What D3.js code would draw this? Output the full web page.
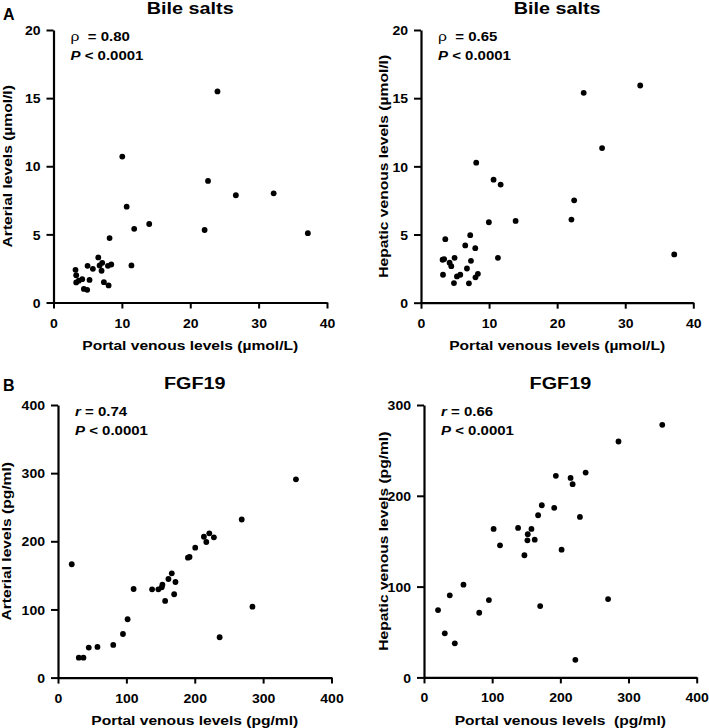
<!DOCTYPE html>
<html>
<head>
<meta charset="utf-8">
<script src="https://cdn.jsdelivr.net/npm/d3@7"></script>
<style>
  html, body { margin: 0; padding: 0; background: #fff; }
  svg { display: block; }
  text { font-family: "Liberation Sans", Arial, Helvetica, sans-serif; font-weight: bold; fill: #000; }
</style>
</head>
<body>
<div id="chart"></div>
<script>
// ---------------- DATA ----------------
// Panel A left: bile salts, portal (x) vs arterial (y), µmol/L
const bsPortalA = [23.98, 10.06, 22.6, 26.67, 32.2, 10.7, 14.0, 11.8, 22.1, 37.2, 8.2, 6.55, 11.4, 3.22, 4.98, 5.76, 6.74, 7.13, 7.03, 7.96, 8.45, 3.32, 3.32, 4.2, 5.27, 7.37, 8.06, 4.44, 4.93, 3.7];
const bsArterial = [15.49, 10.71, 8.92, 7.87, 8.01, 7.03, 5.76, 5.41, 5.32, 5.09, 4.73, 3.31, 2.72, 2.40, 2.69, 2.47, 2.72, 2.91, 2.33, 2.69, 2.79, 2.0, 1.47, 1.71, 1.66, 1.49, 1.25, 1.0, 0.93, 1.6];
// Panel A right: bile salts, portal (x) vs hepatic venous (y)
const bsPortalH = [23.9, 32.2, 26.6, 8.11, 10.66, 11.7, 22.5, 22.1, 9.97, 13.9, 37.2, 3.57, 7.23, 6.5, 7.97, 3.17, 3.4, 4.93, 11.3, 4.2, 4.45, 7.34, 6.75, 3.23, 5.28, 5.77, 8.36, 8.0, 4.84, 7.04];
const bsHepatic = [15.39, 15.93, 11.34, 10.27, 9.02, 8.66, 7.51, 6.1, 5.9, 6.0, 3.54, 4.66, 4.95, 4.2, 4.0, 3.15, 3.2, 3.29, 3.29, 2.93, 2.68, 3.07, 2.51, 2.05, 1.93, 2.05, 2.12, 1.86, 1.44, 1.42];
// Panel B left: FGF19, portal (x) vs arterial (y), pg/ml
const fgfPortalA = [348, 268.7, 213.4, 221.3, 228, 216.9, 200.7, 192.4, 190, 20.1, 166.4, 161.5, 171.8, 152.7, 151.7, 146.8, 137.6, 110.6, 169.9, 156.7, 284.4, 101.8, 95, 236.4, 80.8, 57.7, 45, 30.4, 37.2];
const fgfArterial = [291, 232, 206.7, 211.7, 205.9, 199, 190.6, 177, 176, 166.3, 153, 144.7, 140.3, 136.4, 132.5, 129.6, 129.6, 130, 122.3, 112.5, 104.1, 85.6, 64, 59.2, 48, 45, 44, 29.3, 29.3];
// Panel B right: FGF19, portal (x) vs hepatic venous (y)
const fgfPortalH = [349.5, 285.3, 237.1, 193.4, 215, 218, 172.8, 191, 167.4, 228.7, 102.1, 138, 157.6, 152.2, 151.7, 162.4, 111.5, 201.8, 147.3, 57.9, 37.8, 95.2, 270, 20.6, 81, 170.4, 30.5, 45.2, 222];
const fgfHepatic = [278.2, 259.8, 225.6, 222, 219.7, 212.8, 189.6, 186.7, 178.6, 176.7, 163.5, 164.6, 163.5, 157.7, 151, 151.7, 145.5, 140.7, 134.5, 102.1, 90.4, 85.2, 86.3, 74.2, 71.2, 78.6, 48.5, 37.5, 19.4];

// Tick values
const bsTicksX = [0, 10, 20, 30, 40];
const bsTicksY = [0, 5, 10, 15, 20];
const fgfTicksX = [0, 100, 200, 300, 400];
const fgfTicksYA = [0, 100, 200, 300, 400];
const fgfTicksYH = [0, 100, 200, 300];

// Statistics labels
const statCoef = [["ρ", "0.80"], ["ρ", "0.65"], ["r", "0.74"], ["r", "0.66"]];
const statP = ["< 0.0001", "< 0.0001", "< 0.0001", "< 0.0001"];

// ---------------- LAYOUT ----------------
const W = 709, H = 728;
const SX = 1.2; // horizontal glyph stretch seen in the reference

const panels = [
  { xs: bsPortalA, ys: bsArterial, xDom: [0, 40], yDom: [0, 20], xR: [53.5, 327], yR: [302.5, 30],
    xt: bsTicksX, yt: bsTicksY, title: "Bile salts", xTitle: "Portal venous levels (µmol/L)",
    yTitle: "Arterial levels (µmol/l)", yTitleX: 12, greek: true },
  { xs: bsPortalH, ys: bsHepatic, xDom: [0, 40], yDom: [0, 20], xR: [421, 693.3], yR: [302.7, 30],
    xt: bsTicksX, yt: bsTicksY, title: "Bile salts", xTitle: "Portal venous levels (µmol/L)",
    yTitle: "Hepatic venous levels (µmol/l)", yTitleX: 388, greek: true },
  { xs: fgfPortalA, ys: fgfArterial, xDom: [0, 400], yDom: [0, 400], xR: [58, 331.5], yR: [677.6, 405],
    xt: fgfTicksX, yt: fgfTicksYA, title: "FGF19", xTitle: "Portal venous levels (pg/ml)",
    yTitle: "Arterial levels (pg/ml)", yTitleX: 11, greek: false },
  { xs: fgfPortalH, ys: fgfHepatic, xDom: [0, 400], yDom: [0, 300], xR: [424, 696.7], yR: [677.4, 405],
    xt: fgfTicksX, yt: fgfTicksYH, title: "FGF19", xTitle: "Portal venous levels  (pg/ml)",
    yTitle: "Hepatic venous levels (pg/ml)", yTitleX: 388, greek: false }
];

const svg = d3.select("#chart").append("svg")
  .attr("width", W).attr("height", H)
  .attr("viewBox", `0 0 ${W} ${H}`);
svg.append("rect").attr("width", W).attr("height", H).attr("fill", "#fff");

function label(g, x, y, str, size, anchor, rot, sx) {
  const s = sx === undefined ? SX : sx;
  return g.append("text")
    .attr("transform", `translate(${x},${y})${rot ? ` rotate(${rot})` : ""} scale(${s},1)`)
    .attr("text-anchor", anchor || "start")
    .style("font-size", size + "px")
    .style("white-space", "pre")
    .text(str);
}

// Panel letters
label(svg, 3, 19.5, "A", 16, "start", 0, 1);
label(svg, 3, 391, "B", 16, "start", 0, 1);

panels.forEach((p, i) => {
  const g = svg.append("g");
  const x = d3.scaleLinear().domain(p.xDom).range(p.xR);
  const y = d3.scaleLinear().domain(p.yDom).range(p.yR);

  // axes
  const xAxis = g.append("g").attr("transform", `translate(0,${p.yR[0]})`)
    .call(d3.axisBottom(x).tickValues(p.xt).tickSize(6).tickSizeOuter(0).tickFormat(d3.format("d")));
  const yAxis = g.append("g").attr("transform", `translate(${p.xR[0]},0)`)
    .call(d3.axisLeft(y).tickValues(p.yt).tickSize(7).tickSizeOuter(0).tickFormat(d3.format("d")));

  [xAxis, yAxis].forEach(ax => {
    ax.attr("font-family", null).attr("font-size", null);
    ax.select(".domain").attr("stroke", "#000").attr("stroke-width", 2.2);
    ax.selectAll(".tick line").attr("stroke", "#000").attr("stroke-width", 2);
    ax.selectAll(".tick text").style("font-size", "13px");
  });
  xAxis.selectAll(".tick text")
    .attr("y", null).attr("dy", null).attr("x", null)
    .attr("transform", `translate(0,25) scale(1.08,1)`);
  yAxis.selectAll(".tick text")
    .attr("x", null).attr("dy", "0.36em")
    .attr("transform", `translate(-13,0) scale(1.08,1)`);

  // points
  g.append("g").selectAll("circle")
    .data(p.xs.map((v, k) => [v, p.ys[k]]))
    .join("circle")
    .attr("cx", d => x(d[0]))
    .attr("cy", d => y(d[1]))
    .attr("r", 2.9)
    .attr("fill", "#000");

  const cx = (p.xR[0] + p.xR[1]) / 2;
  // panel title
  label(g, cx, p.yR[1] - 16.5, p.title, 16.5, "middle");
  // x title
  label(g, cx, p.yR[0] + 47.5, p.xTitle, 13, "middle");
  // y title
  label(g, p.yTitleX, (p.yR[0] + p.yR[1]) / 2, p.yTitle, 13, "middle", -90);

  // stats
  const sx0 = p.xR[0] + 17;
  const t1 = g.append("text")
    .attr("transform", `translate(${sx0},${p.yR[1] + 10.5}) scale(${SX},1)`)
    .style("font-size", "12.5px");
  if (p.greek) {
    t1.append("tspan").style("font-weight", "normal").style("font-size", "13px").text(statCoef[i][0]);
    t1.append("tspan").text("  = " + statCoef[i][1]).style("white-space", "pre");
  } else {
    t1.append("tspan").style("font-style", "italic").text(statCoef[i][0]);
    t1.append("tspan").text(" = " + statCoef[i][1]).style("white-space", "pre");
  }
  const t2 = g.append("text")
    .attr("transform", `translate(${sx0},${p.yR[1] + 29.5}) scale(${SX},1)`)
    .style("font-size", "12.5px");
  t2.append("tspan").style("font-style", "italic").text("P");
  t2.append("tspan").text(" " + statP[i]).style("white-space", "pre");
});
</script>
</body>
</html>
